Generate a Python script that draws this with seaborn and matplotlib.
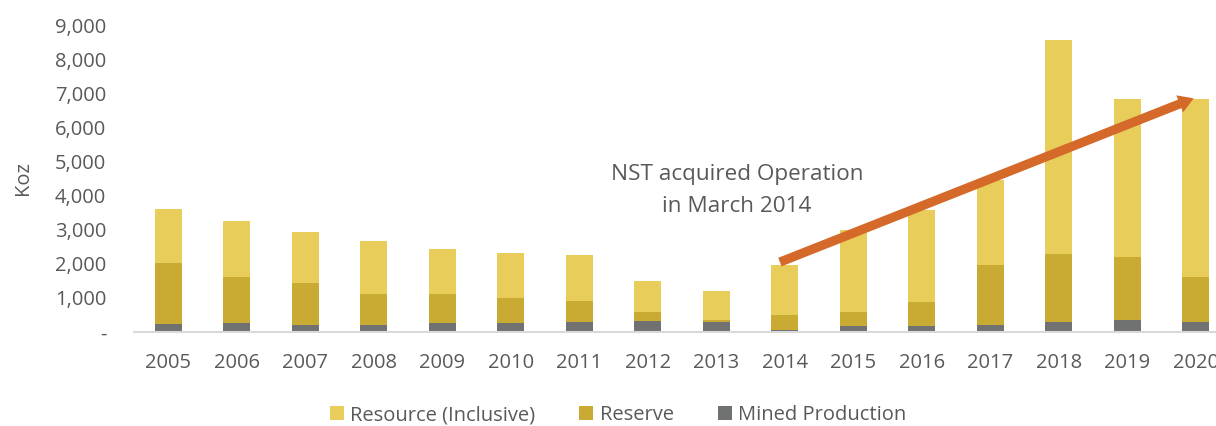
import matplotlib
matplotlib.use("Agg")
import matplotlib.pyplot as plt
import seaborn as sns
import pandas as pd
from matplotlib.patches import Patch
from matplotlib.ticker import FuncFormatter

years = [str(y) for y in range(2005, 2021)]
resource = [3620, 3250, 2940, 2670, 2430, 2310, 2250, 1500, 1210, 1960,
            2990, 3570, 4450, 8560, 6830, 6830]
reserve = [2030, 1610, 1440, 1120, 1120, 1000, 920, 580, 350, 500,
           590, 880, 1970, 2290, 2200, 1600]
mined = [245, 255, 205, 205, 265, 275, 290, 310, 300, 60,
         175, 175, 205, 285, 345, 305]

series_names = ["Resource (Inclusive)", "Reserve", "Mined Production"]
colors = ["#E8CD5A", "#C9AB33", "#6F7271"]

df = pd.DataFrame({"Year": years, "Resource": resource,
                   "Reserve": reserve, "Mined": mined})

sns.set_theme(style="white")
plt.rcParams["font.family"] = ["Open Sans", "DejaVu Sans"]
text_color = "#595959"

fig = plt.figure(figsize=(12.16, 4.26), dpi=100)
ax = fig.add_axes([134 / 1216, 94 / 426, 1096 / 1216, 307 / 426])

for col, c in zip(["Resource", "Reserve", "Mined"], colors):
    sns.barplot(data=df, x="Year", y=col, color=c, width=0.4,
                saturation=1, ax=ax, edgecolor="none", errorbar=None)

ax.set_xlim(-0.5, 15.5)
ax.set_ylim(0, 9000)
ax.set_yticks(range(0, 9001, 1000))
ax.yaxis.set_major_formatter(FuncFormatter(lambda v, p: "-" if v == 0 else f"{int(v):,}"))
ax.tick_params(axis="both", length=0, labelsize=14.5, labelcolor=text_color)
ax.tick_params(axis="y", pad=20)
ax.tick_params(axis="x", pad=15)
ax.set_xlabel("")
ax.set_ylabel("Koz", fontsize=14.5, color=text_color)
ax.yaxis.set_label_coords((33 - 134) / 1096, 0.50)
for s in ["top", "right", "left"]:
    ax.spines[s].set_visible(False)
ax.spines["bottom"].set_color("#D9D9D9")
ax.spines["bottom"].set_linewidth(1.5)

ax.text(8.3, 4150, "NST acquired Operation\nin March 2014", ha="center", va="center",
        fontsize=16.2, color=text_color, linespacing=1.72)

ann = ax.annotate("", xy=(14.97, 6850), xytext=(8.93, 2050),
                  arrowprops=dict(arrowstyle="simple,head_length=0.9,head_width=1.1,tail_width=0.55",
                                  color="#D4692A", lw=0, shrinkA=0, shrinkB=0),
                  annotation_clip=False)
ann.arrow_patch.set_mutation_scale(14)

handles = [Patch(facecolor=c, edgecolor="none") for c in colors]
fig.legend(handles, series_names, loc="center", bbox_to_anchor=(618 / 1216, 11 / 426),
           ncol=3, frameon=False, fontsize=14.5, labelcolor=text_color,
           handlelength=0.7, handleheight=0.7, handletextpad=0.3, columnspacing=2.2)

fig.savefig("out.png", dpi=100)
